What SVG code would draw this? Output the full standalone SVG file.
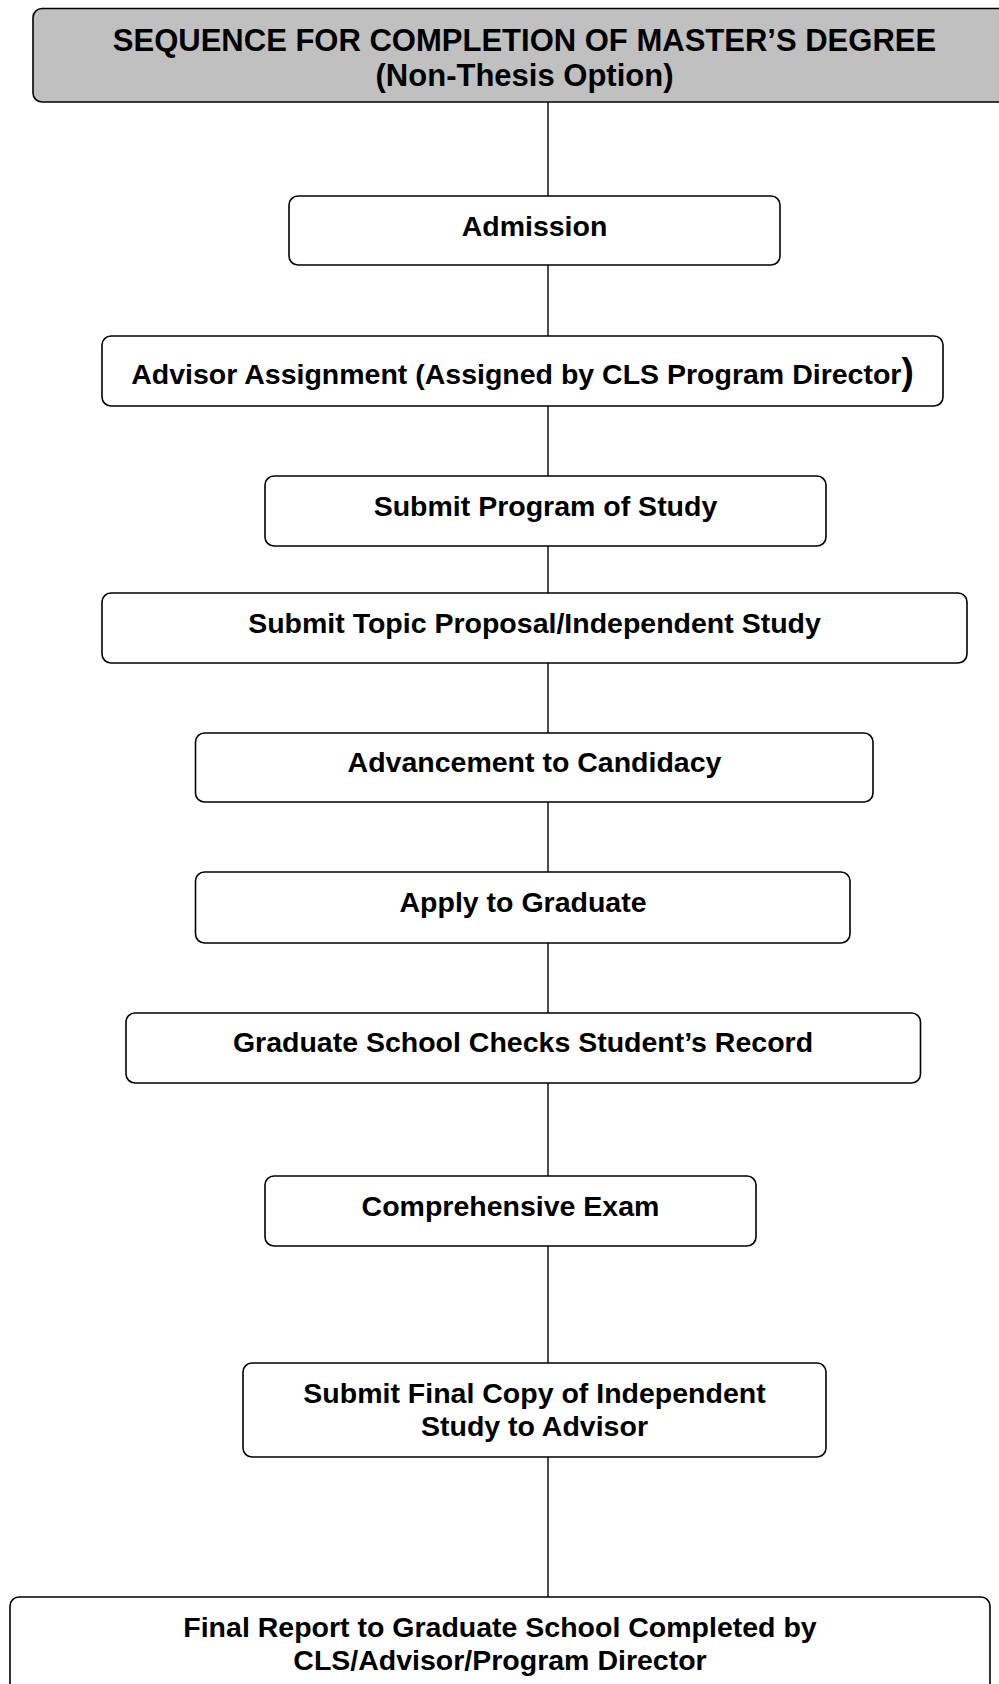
<svg xmlns="http://www.w3.org/2000/svg" width="999" height="1684" viewBox="0 0 999 1684">
<style>
.box{fill:#ffffff;stroke:#000000;stroke-width:1.6}
.title{fill:#c0c0c0;stroke:#000000;stroke-width:1.6}
.t{font-family:"Liberation Sans",Arial,sans-serif;font-weight:bold;font-size:28.5px;fill:#000000;text-anchor:middle}
.tt{font-family:"Liberation Sans",Arial,sans-serif;font-weight:bold;font-size:31px;fill:#000000;text-anchor:middle}
.c{stroke:#000000;stroke-width:1.4;fill:none}
</style>
<rect width="999" height="1684" fill="#ffffff"/>
<g id="connectors">
<line class="c" x1="548" y1="102" x2="548" y2="196"/>
<line class="c" x1="548" y1="265" x2="548" y2="336"/>
<line class="c" x1="548" y1="406" x2="548" y2="476"/>
<line class="c" x1="548" y1="546" x2="548" y2="593"/>
<line class="c" x1="548" y1="663" x2="548" y2="733"/>
<line class="c" x1="548" y1="802" x2="548" y2="872"/>
<line class="c" x1="548" y1="943" x2="548" y2="1013"/>
<line class="c" x1="548" y1="1083" x2="548" y2="1176"/>
<line class="c" x1="548" y1="1246" x2="548" y2="1363"/>
<line class="c" x1="548" y1="1457" x2="548" y2="1597"/>
</g>
<g id="title">
<rect class="title" x="33" y="8.5" width="990" height="93.5" rx="9"/>
<text class="tt" x="524.5" y="50.5">SEQUENCE FOR COMPLETION OF MASTER’S DEGREE</text>
<text class="tt" x="524.5" y="86">(Non-Thesis Option)</text>
</g>
<g id="admission">
<rect class="box" x="289" y="196" width="491" height="69" rx="9"/>
<text class="t" x="534.5" y="236">Admission</text>
</g>
<g id="advisor">
<rect class="box" x="102" y="336" width="841" height="70" rx="9"/>
<text class="t" x="522.5" y="383.5">Advisor Assignment (Assigned by CLS Program Director<tspan font-size="37px">)</tspan></text>
</g>
<g id="program">
<rect class="box" x="265" y="476" width="561" height="70" rx="9"/>
<text class="t" x="545.5" y="515.5">Submit Program of Study</text>
</g>
<g id="topic">
<rect class="box" x="102" y="593" width="865" height="70" rx="9"/>
<text class="t" x="534.5" y="632.5">Submit Topic Proposal/Independent Study</text>
</g>
<g id="candidacy">
<rect class="box" x="195.5" y="733" width="677.5" height="69" rx="9"/>
<text class="t" x="534.5" y="772">Advancement to Candidacy</text>
</g>
<g id="apply">
<rect class="box" x="195.5" y="872" width="654.5" height="71" rx="9"/>
<text class="t" x="523" y="912">Apply to Graduate</text>
</g>
<g id="checks">
<rect class="box" x="126" y="1013" width="794.5" height="70" rx="9"/>
<text class="t" x="523" y="1051.5">Graduate School Checks Student’s Record</text>
</g>
<g id="exam">
<rect class="box" x="265" y="1176" width="491" height="70" rx="9"/>
<text class="t" x="510.5" y="1216">Comprehensive Exam</text>
</g>
<g id="final-copy">
<rect class="box" x="243" y="1363" width="583" height="94" rx="9"/>
<text class="t" x="534.5" y="1403">Submit Final Copy of Independent</text>
<text class="t" x="534.5" y="1436">Study to Advisor</text>
</g>
<g id="final-report">
<rect class="box" x="10" y="1597" width="980" height="100" rx="9"/>
<text class="t" x="500" y="1637">Final Report to Graduate School Completed by</text>
<text class="t" x="500" y="1670">CLS/Advisor/Program Director</text>
</g>
</svg>
